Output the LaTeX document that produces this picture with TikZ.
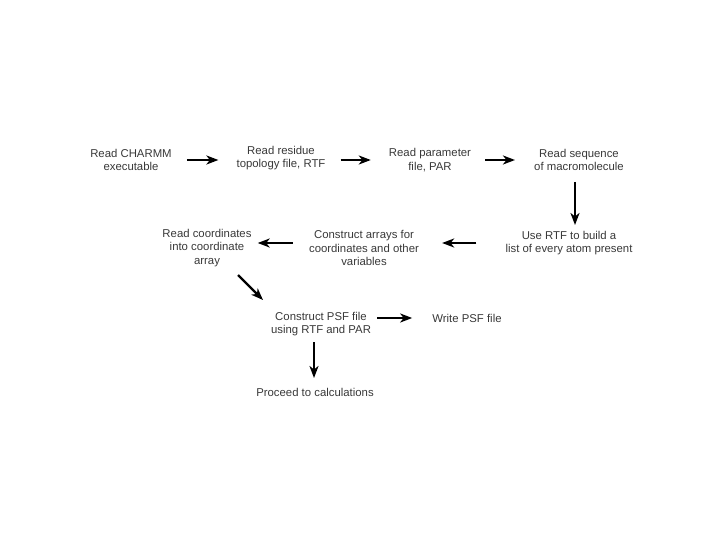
\documentclass[tikz,border=0pt]{standalone}
\usepackage{fontspec}
\setmainfont{Liberation Sans}
\usepackage{tikz}
\usetikzlibrary{arrows.meta}
\usetikzlibrary{positioning}

\begin{document}
\begin{tikzpicture}[x=1bp,y=-1bp,->,>={Stealth[length=12bp,width=9bp,inset=3.5bp]},line width=2.4bp,
    step node/.style={align=center,inner sep=0pt,text=black!78,font=\fontsize{11.4}{13.5}\selectfont}]
   \useasboundingbox (0,0) rectangle (720,540);
   % first row
   \node[step node] (a) at (131,160) {Read CHARMM\\executable};
   \node[step node] (b) at (281,158) {Read residue\\topology file, RTF};
   \node[step node] (c) at (430,160) {Read parameter\\file, PAR};
   \node[step node] (d) at (579,160) {Read sequence\\of macromolecule};
   % second row
   \node[step node] (e) at (569,243) {Use RTF to build a\\list of every atom present};
   \node[step node] (f) at (364,248) {Construct arrays for\\coordinates and other\\variables};
   \node[step node] (g) at (207,248) {Read coordinates\\into coordinate\\array};
   % third row
   \node[step node] (h) at (321,324) {Construct PSF file\\using RTF and PAR};
   \node[step node] (i) at (467,318) {Write PSF file};
   \node[step node] (j) at (315,392) {Proceed to calculations};
   \path (a.east) edge[shorten <=14bp,shorten >=17bp] (a.east -| b.west);
   \path (c.west -| b.east) edge[shorten <=14bp,shorten >=17bp] (c.west);
   \path (c.east) edge[shorten <=13bp,shorten >=18bp] (c.east -| d.west);
   \path ([shift={(-4,22)}]d.center) edge ([shift={(6,-18)}]e.center);
   \path (e.west) edge[shorten <=28bp,shorten >=22bp] (e.west -| f.east);
   \path (f.west |- e.west) edge[shorten <=15bp,shorten >=5bp] (g.east |- e.west);
   \path ([shift={(31,27)}]g.center) edge ([shift={(-58,-24)}]h.center);
   \path (i.west -| h.east) edge[shorten <=5bp,shorten >=19bp] (i.west);
   \path ([shift={(-7,18)}]h.center) edge ([shift={(-1,-14)}]j.center);
\end{tikzpicture}
\end{document}
